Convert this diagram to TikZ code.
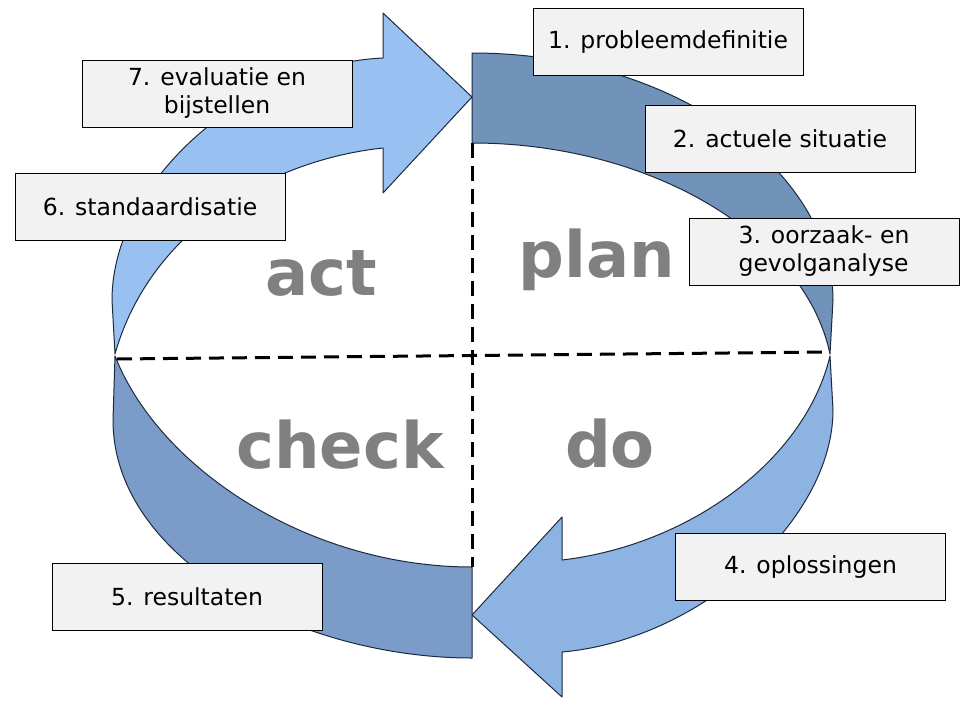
\documentclass[tikz,border=0pt]{standalone}
\usepackage{fontspec}
\setmainfont{DejaVu Sans}
\definecolor{plandark}{HTML}{7193BA}
\definecolor{checkdark}{HTML}{7B9CC8}
\definecolor{actlight}{HTML}{98C0F0}
\definecolor{dolight}{HTML}{8DB3E2}
\definecolor{edgecol}{HTML}{1C2A40}
\definecolor{boxfill}{HTML}{F2F2F2}
\definecolor{wordgray}{HTML}{808080}
\tikzset{
  band/.style={draw=edgecol, line width=1pt, line join=round},
  labelbox/.style={draw=black, line width=1pt, fill=boxfill, minimum width=270pt, minimum height=67pt, inner sep=0pt, font=\fontsize{23.5pt}{28pt}\selectfont, align=center, text=black},
  phase/.style={font=\fontsize{64pt}{64pt}\selectfont\bfseries, text=wordgray, anchor=base, inner sep=0pt},
  divider/.style={draw=black, line width=3pt, dash pattern=on 15pt off 8pt},
}
\begin{document}
\begin{tikzpicture}[x=1pt,y=-1pt]
\fill[white] (0,0) rectangle (960,720);
\useasboundingbox (0,0) rectangle (960,720);
% plan band
\path[band, fill=plandark] (472,53) .. controls (680,53) and (833,175) .. (833,300) -- (830,354) .. controls (805,235) and (650,143) .. (472,143) -- cycle;
% do band
\path[band, fill=dolight] (830,356) -- (833,410) .. controls (833,520) and (700,640) .. (562,652) -- (562,697) -- (472,615) -- (562,517) -- (562,560) .. controls (690,545) and (805,460) .. (830,356) -- cycle;
% check band
\path[band, fill=checkdark] (472,567) -- (472,658) .. controls (300,658) and (113,560) .. (113,420) -- (115,356) .. controls (160,470) and (310,567) .. (472,567) -- cycle;
% act band
\path[band, fill=actlight] (115,354) -- (112,300) .. controls (112,185) and (240,65) .. (383,58) -- (383,13) -- (472,97) -- (383,193) -- (383,148) .. controls (270,160) and (150,230) .. (115,354) -- cycle;
% dividers
\coordinate (vtop) at (472,143);
\coordinate (vbot) at (472,567);
\coordinate (hleft) at (117,359);
\coordinate (hright) at (829,352);
\draw[divider] (vtop) -- (vbot);
\draw[divider] (hleft) -- (hright);
% phase words
\node[phase] (plan) at (597,277) {plan};
\node[phase] (act) at (321,295) {act};
\node[phase] (check) at (340,468) {check};
\node[phase] (do) at (610,467) {do};
% labels
\node[labelbox] (l1) at (668,42) {1. probleemdefinitie};
\node[labelbox] (l2) at (780,138.5) {2. actuele situatie};
\node[labelbox] (l3) at (824,251.5) {\begin{tabular}{@{}l@{}}3. oorzaak- en\\gevolganalyse\end{tabular}};
\node[labelbox] (l4) at (810.5,567) {4. oplossingen};
\node[labelbox] (l5) at (187,596.5) {5. resultaten};
\node[labelbox] (l6) at (150,206.5) {6. standaardisatie};
\node[labelbox] (l7) at (217,93.5) {7. evaluatie en\\bijstellen};
\end{tikzpicture}
\end{document}
